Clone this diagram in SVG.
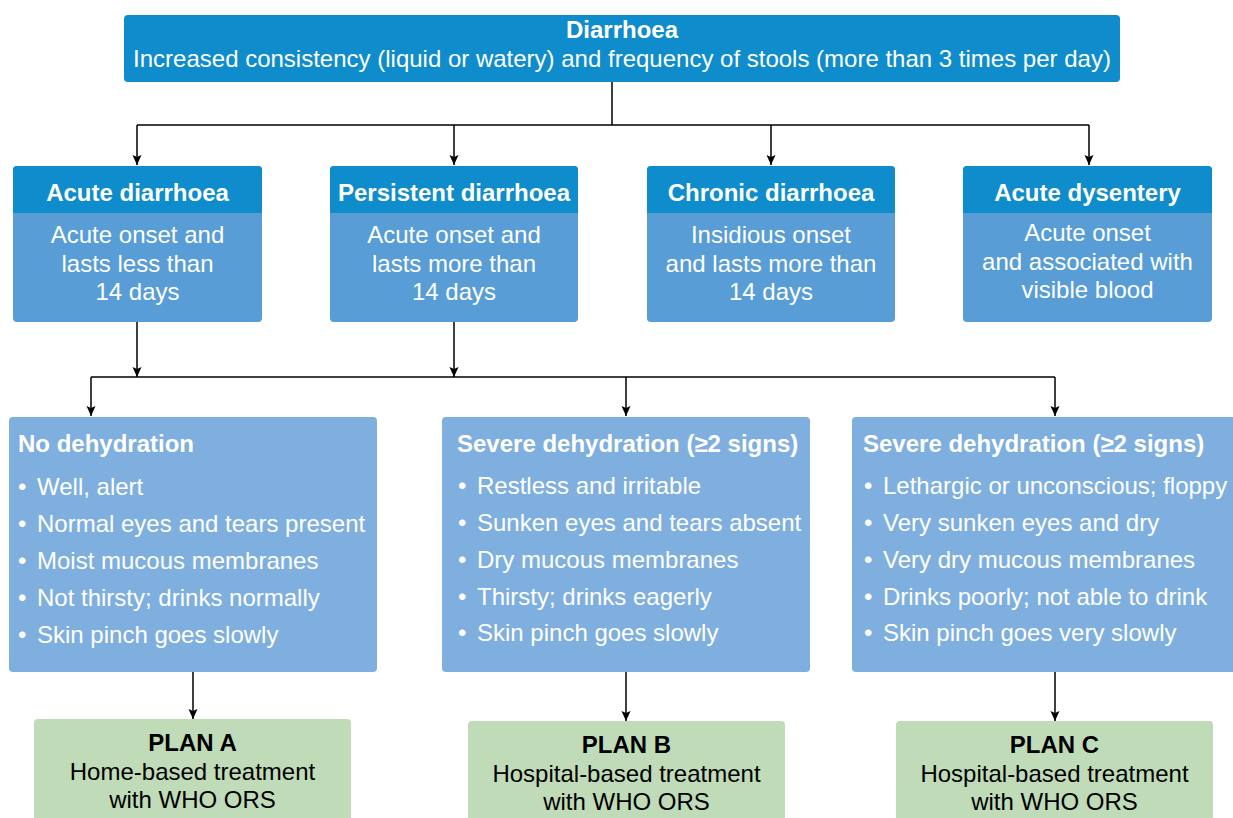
<svg xmlns="http://www.w3.org/2000/svg" width="1233" height="818" viewBox="0 0 1233 818">
<style>
text{font-family:"Liberation Sans",Arial,sans-serif;font-size:24px}
.w{fill:#fff}
.k{fill:#000}
.b{font-weight:bold}
.c{text-anchor:middle}
.dark{fill:#0e8ccc}
.mid{fill:#589dd6}
.light{fill:#7fafde}
.green{fill:#bfdbb8}
.con{fill:none;stroke:#000;stroke-width:1.5}
</style>
<defs>
<marker id="ah" markerUnits="userSpaceOnUse" markerWidth="10" markerHeight="10" refX="10" refY="5" orient="auto">
<path d="M0,0.5 L10,5 L0,9.5 L2,5 z" fill="#000"/>
</marker>
</defs>
<rect width="1233" height="818" fill="#fff"/>

<g id="connectors">
<path class="con" d="M612,82 V125 M137,125 H1089"/>
<path class="con" marker-end="url(#ah)" d="M137,125 V165"/>
<path class="con" marker-end="url(#ah)" d="M454,125 V165"/>
<path class="con" marker-end="url(#ah)" d="M771,125 V165"/>
<path class="con" marker-end="url(#ah)" d="M1089,125 V165"/>
<path class="con" marker-end="url(#ah)" d="M137,322 V377"/>
<path class="con" marker-end="url(#ah)" d="M454,322 V377"/>
<path class="con" d="M91,377 H1055"/>
<path class="con" marker-end="url(#ah)" d="M91,377 V416"/>
<path class="con" marker-end="url(#ah)" d="M626,377 V416"/>
<path class="con" marker-end="url(#ah)" d="M1055,377 V416"/>
<path class="con" marker-end="url(#ah)" d="M193,672 V719"/>
<path class="con" marker-end="url(#ah)" d="M626,672 V721"/>
<path class="con" marker-end="url(#ah)" d="M1055,672 V721"/>
</g>

<g id="diarrhoea">
<rect class="dark" x="124" y="15" width="996" height="67" rx="4"/>
<text class="w b c" x="622" y="38">Diarrhoea</text>
<text class="w c" x="622" y="67">Increased consistency (liquid or watery) and frequency of stools (more than 3 times per day)</text>
</g>

<g id="acute-diarrhoea">
<rect class="mid" x="13" y="166" width="249" height="156" rx="4"/>
<path class="dark" d="M13,213 V170 Q13,166 17,166 H258 Q262,166 262,170 V213 Z"/>
<text class="w b c" x="137.5" y="201">Acute diarrhoea</text>
<text class="w c" x="137.5" y="243">Acute onset and</text>
<text class="w c" x="137.5" y="272">lasts less than</text>
<text class="w c" x="137.5" y="300">14 days</text>
</g>

<g id="persistent-diarrhoea">
<rect class="mid" x="330" y="166" width="248" height="156" rx="4"/>
<path class="dark" d="M330,213 V170 Q330,166 334,166 H574 Q578,166 578,170 V213 Z"/>
<text class="w b c" x="454" y="201">Persistent diarrhoea</text>
<text class="w c" x="454" y="243">Acute onset and</text>
<text class="w c" x="454" y="272">lasts more than</text>
<text class="w c" x="454" y="300">14 days</text>
</g>

<g id="chronic-diarrhoea">
<rect class="mid" x="647" y="166" width="248" height="156" rx="4"/>
<path class="dark" d="M647,213 V170 Q647,166 651,166 H891 Q895,166 895,170 V213 Z"/>
<text class="w b c" x="771" y="201">Chronic diarrhoea</text>
<text class="w c" x="771" y="243">Insidious onset</text>
<text class="w c" x="771" y="272">and lasts more than</text>
<text class="w c" x="771" y="300">14 days</text>
</g>

<g id="acute-dysentery">
<rect class="mid" x="963" y="166" width="249" height="156" rx="4"/>
<path class="dark" d="M963,213 V170 Q963,166 967,166 H1208 Q1212,166 1212,170 V213 Z"/>
<text class="w b c" x="1087.5" y="201">Acute dysentery</text>
<text class="w c" x="1087.5" y="241">Acute onset</text>
<text class="w c" x="1087.5" y="269.5">and associated with</text>
<text class="w c" x="1087.5" y="298">visible blood</text>
</g>

<g id="no-dehydration">
<rect class="light" x="9" y="417" width="368" height="255" rx="4"/>
<text class="w b" x="18" y="452">No dehydration</text>
<text class="w" x="18" y="495">•</text><text class="w" x="37" y="495">Well, alert</text>
<text class="w" x="18" y="532">•</text><text class="w" x="37" y="532">Normal eyes and tears present</text>
<text class="w" x="18" y="569">•</text><text class="w" x="37" y="569">Moist mucous membranes</text>
<text class="w" x="18" y="606">•</text><text class="w" x="37" y="606">Not thirsty; drinks normally</text>
<text class="w" x="18" y="643">•</text><text class="w" x="37" y="643">Skin pinch goes slowly</text>
</g>

<g id="some-dehydration">
<rect class="light" x="442" y="417" width="368" height="255" rx="4"/>
<text class="w b" x="457" y="452">Severe dehydration (≥2 signs)</text>
<text class="w" x="458" y="494">•</text><text class="w" x="477" y="494">Restless and irritable</text>
<text class="w" x="458" y="531">•</text><text class="w" x="477" y="531">Sunken eyes and tears absent</text>
<text class="w" x="458" y="568">•</text><text class="w" x="477" y="568">Dry mucous membranes</text>
<text class="w" x="458" y="605">•</text><text class="w" x="477" y="605">Thirsty; drinks eagerly</text>
<text class="w" x="458" y="641">•</text><text class="w" x="477" y="641">Skin pinch goes slowly</text>
</g>

<g id="severe-dehydration">
<rect class="light" x="852" y="417" width="390" height="255" rx="4"/>
<text class="w b" x="863" y="452">Severe dehydration (≥2 signs)</text>
<text class="w" x="864" y="494">•</text><text class="w" x="883" y="494">Lethargic or unconscious; floppy</text>
<text class="w" x="864" y="531">•</text><text class="w" x="883" y="531">Very sunken eyes and dry</text>
<text class="w" x="864" y="568">•</text><text class="w" x="883" y="568">Very dry mucous membranes</text>
<text class="w" x="864" y="605">•</text><text class="w" x="883" y="605">Drinks poorly; not able to drink</text>
<text class="w" x="864" y="641">•</text><text class="w" x="883" y="641">Skin pinch goes very slowly</text>
</g>

<g id="plan-a">
<rect class="green" x="34" y="719" width="317" height="110" rx="4"/>
<text class="k b c" x="192.5" y="751">PLAN A</text>
<text class="k c" x="192.5" y="779.5">Home-based treatment</text>
<text class="k c" x="192.5" y="807.5">with WHO ORS</text>
</g>

<g id="plan-b">
<rect class="green" x="468" y="721" width="317" height="110" rx="4"/>
<text class="k b c" x="626.5" y="753">PLAN B</text>
<text class="k c" x="626.5" y="781.5">Hospital-based treatment</text>
<text class="k c" x="626.5" y="809.5">with WHO ORS</text>
</g>

<g id="plan-c">
<rect class="green" x="896" y="721" width="317" height="110" rx="4"/>
<text class="k b c" x="1054.5" y="753">PLAN C</text>
<text class="k c" x="1054.5" y="781.5">Hospital-based treatment</text>
<text class="k c" x="1054.5" y="809.5">with WHO ORS</text>
</g>
</svg>
